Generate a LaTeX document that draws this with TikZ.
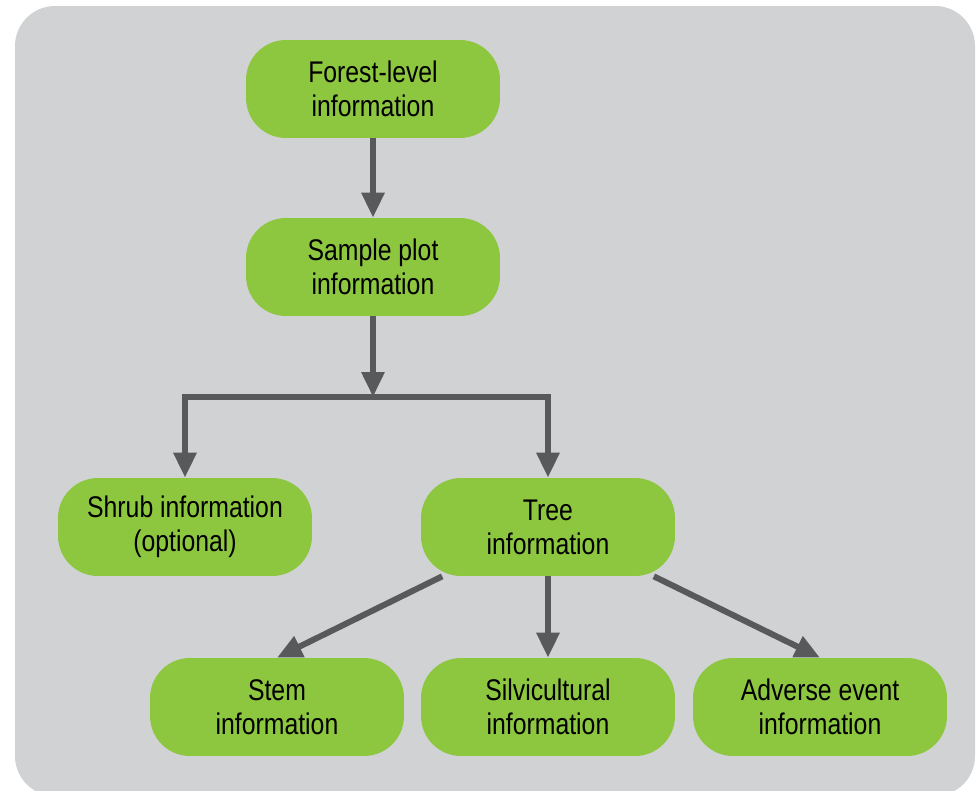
\documentclass[tikz,border=0pt]{standalone}
\usepackage{fontspec}
\setmainfont{Liberation Sans}[FakeStretch=0.83]
\usepackage{tikz}
\usetikzlibrary{arrows.meta}

\definecolor{panelgray}{HTML}{D1D2D4}
\definecolor{boxgreen}{HTML}{8DC63F}
\definecolor{flowgray}{HTML}{58595B}

\tikzset{
  infobox/.style={fill=boxgreen, rounded corners=0.8cm, minimum width=5.08cm,
    minimum height=1.96cm, align=center, font=\fontsize{17}{19.5}\selectfont},
  flow/.style={draw=flowgray, line width=0.12cm,
    -{Triangle[length=0.5cm,width=0.44cm]}}
}

\begin{document}
\begin{tikzpicture}[x=0.02cm,y=-0.02cm]
% Frame and grey panel
\useasboundingbox (0,0) rectangle (977,791);
\fill[panelgray, rounded corners=0.8cm] (15,6) rectangle (975,796);

% Boxes
\node[infobox] (forest) at (373,89) {Forest-level\\information};
\node[infobox] (plot) at (373,267) {Sample plot\\information};
\node[infobox] (shrub) at (185,527) {Shrub information\\(optional)};
\node[infobox] (tree) at (548,527) {Tree\\information};
\node[infobox] (stem) at (277,707) {Stem\\information};
\node[infobox] (silvi) at (548,707) {Silvicultural\\information};
\node[infobox] (adverse) at (820,707) {Adverse event\\information};

% Branch point below the plot box
\coordinate (split) at (373,397);

% Connectors
\draw[flow] (forest) -- (plot);
\draw[flow] (plot) -- (split);
\draw[flow] (split) -| (shrub.north);
\draw[flow] (split) -| (tree.north);
\draw[flow] (tree.205) -- (stem.north);
\draw[flow] (tree) -- (silvi);
\draw[flow] (tree.335) -- (adverse.north);
\end{tikzpicture}
\end{document}
